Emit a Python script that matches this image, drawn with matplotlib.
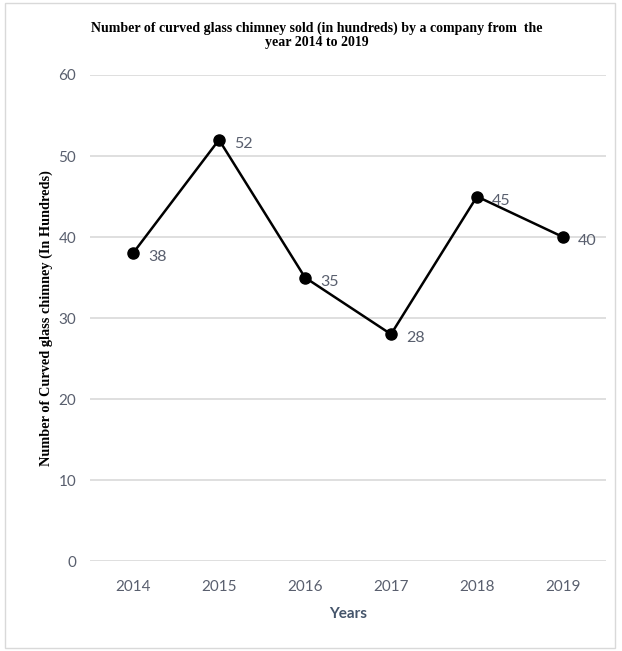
import matplotlib.pyplot as plt
from matplotlib.patches import Rectangle

years = ["2014", "2015", "2016", "2017", "2018", "2019"]
sold = [38, 52, 35, 28, 45, 40]

tick_color = "#595f6e"
fig = plt.figure(figsize=(6.22, 6.51), dpi=100)
ax = fig.add_axes([0.1447, 0.1382, 0.8296, 0.7466])

x = list(range(len(years)))
ax.plot(x, sold, color="black", linewidth=1.8, marker="o", markersize=8, zorder=3)
for xi, v in zip(x, sold):
    ax.annotate(str(v), (xi, v), xytext=(11, -3), textcoords="offset points",
                fontsize=11.5, color=tick_color, family="Lato", va="center")

ax.set_xlim(-0.5, len(years) - 0.5)
ax.set_ylim(0, 60)
ax.set_yticks(range(0, 61, 10))
ax.set_xticks(x)
ax.set_xticklabels(years)
ax.grid(axis="y", color="#dcdcdc", linewidth=1.3)
ax.set_axisbelow(True)
for s in ax.spines.values():
    s.set_visible(False)
ax.tick_params(length=0, labelsize=11, labelcolor=tick_color)
ax.tick_params(axis="x", pad=14)
ax.tick_params(axis="y", pad=10)
for lab in ax.get_xticklabels() + ax.get_yticklabels():
    lab.set_family("Lato")

ax.set_xlabel("Years", fontsize=11, fontweight="bold", color="#44546a",
              family="Lato", labelpad=9)
ax.set_ylabel("Number of Curved glass chimney (In Hundreds)", fontsize=10.3,
              fontweight="bold", family="Liberation Serif", labelpad=4)

fig.text(0.51, 0.946, "Number of curved glass chimney sold (in hundreds) by a company from  the\nyear 2014 to 2019",
         ha="center", va="center", fontsize=10, fontweight="bold",
         family="Liberation Serif", linespacing=1.05)

fig.patches.append(Rectangle((0.008, 0.005), 0.98, 0.99, transform=fig.transFigure,
                             fill=False, edgecolor="#d9d9d9", linewidth=1))

plt.savefig("out.png", dpi=100)
